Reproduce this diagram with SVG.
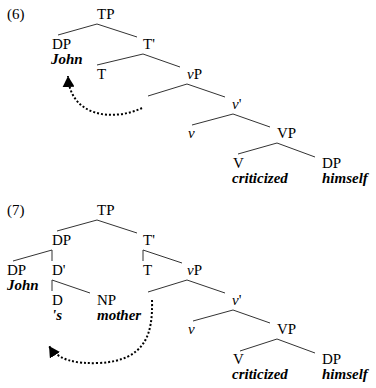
<svg xmlns="http://www.w3.org/2000/svg" width="376" height="388" viewBox="0 0 376 388">
<style>
.w{font-weight:bold;font-style:italic}
.i{font-style:italic}
.e line{stroke:#333;stroke-width:1}
.mv{fill:none;stroke:#000;stroke-width:2;stroke-dasharray:2 2}
</style>
<defs>
<marker id="ah" markerUnits="userSpaceOnUse" markerWidth="12" markerHeight="12" refX="11" refY="6" orient="auto">
<path d="M0,0 L11,6 L0,12 z" fill="#000"/>
</marker>
</defs>
<rect width="376" height="388" fill="#fff"/>
<g font-family="Liberation Serif, serif" font-size="15" fill="#000">
<!-- Tree (6) -->
<text x="7" y="19">(6)</text>
<g id="t6-TP"><text x="97" y="19">TP</text></g>
<g id="t6-DP"><text x="52" y="49">DP</text><text class="w" x="51" y="64">John</text></g>
<g id="t6-Tbar"><text x="143" y="49">T'</text></g>
<g id="t6-T"><text x="97" y="79">T</text></g>
<g id="t6-vP"><text x="187" y="79"><tspan class="i">v</tspan>P</text></g>
<g id="t6-vbar"><text x="232" y="109"><tspan class="i">v</tspan>'</text></g>
<g id="t6-v"><text class="i" x="188" y="138">v</text></g>
<g id="t6-VP"><text x="277" y="138">VP</text></g>
<g id="t6-V"><text x="233" y="168">V</text><text class="w" x="232" y="183">criticized</text></g>
<g id="t6-DP2"><text x="322" y="168">DP</text><text class="w" x="322" y="183">himself</text></g>
<!-- Tree (7) -->
<text x="7" y="215">(7)</text>
<g id="t7-TP"><text x="97" y="215">TP</text></g>
<g id="t7-DP"><text x="52" y="245">DP</text></g>
<g id="t7-Tbar"><text x="143" y="245">T'</text></g>
<g id="t7-DPJohn"><text x="7" y="275">DP</text><text class="w" x="7" y="290">John</text></g>
<g id="t7-Dbar"><text x="52" y="275">D'</text></g>
<g id="t7-T"><text x="143" y="275">T</text></g>
<g id="t7-vP"><text x="187" y="275"><tspan class="i">v</tspan>P</text></g>
<g id="t7-D"><text x="52" y="305">D</text><text class="w" x="52" y="320">'s</text></g>
<g id="t7-NP"><text x="97" y="305">NP</text><text class="w" x="97" y="320">mother</text></g>
<g id="t7-vbar"><text x="232" y="305"><tspan class="i">v</tspan>'</text></g>
<g id="t7-v"><text class="i" x="188" y="334">v</text></g>
<g id="t7-VP"><text x="277" y="334">VP</text></g>
<g id="t7-V"><text x="233" y="364">V</text><text class="w" x="232" y="379">criticized</text></g>
<g id="t7-DP2"><text x="322" y="364">DP</text><text class="w" x="322" y="379">himself</text></g>
</g>
<g id="connectors" class="e">
<line x1="97" y1="24" x2="58" y2="35"/>
<line x1="97" y1="24" x2="137" y2="37"/>
<line x1="143" y1="54" x2="97" y2="65"/>
<line x1="143" y1="54" x2="180" y2="67"/>
<line x1="187" y1="84" x2="148" y2="96"/>
<line x1="187" y1="84" x2="225" y2="97"/>
<line x1="233" y1="114" x2="192" y2="125"/>
<line x1="233" y1="114" x2="270" y2="127"/>
<line x1="277" y1="143" x2="238" y2="154"/>
<line x1="277" y1="143" x2="315" y2="157"/>
<path class="mv" d="M142,108 C115,121 70,118 68,76" marker-end="url(#ah)"/>
<line x1="97" y1="220" x2="57" y2="231"/>
<line x1="97" y1="220" x2="137" y2="233"/>
<line x1="52" y1="250" x2="13" y2="261"/>
<line x1="52" y1="250" x2="52" y2="261"/>
<line x1="143" y1="250" x2="143" y2="261"/>
<line x1="143" y1="250" x2="182" y2="263"/>
<line x1="52" y1="280" x2="52" y2="291"/>
<line x1="52" y1="280" x2="90" y2="293"/>
<line x1="187" y1="280" x2="148" y2="292"/>
<line x1="187" y1="280" x2="225" y2="293"/>
<line x1="233" y1="310" x2="193" y2="321"/>
<line x1="233" y1="310" x2="270" y2="323"/>
<line x1="277" y1="339" x2="240" y2="351"/>
<line x1="277" y1="339" x2="315" y2="353"/>
<path class="mv" d="M152,300 C153,335 145,360 100,363 C75,364 58,360 49,346" marker-end="url(#ah)"/>
</g>
</svg>
